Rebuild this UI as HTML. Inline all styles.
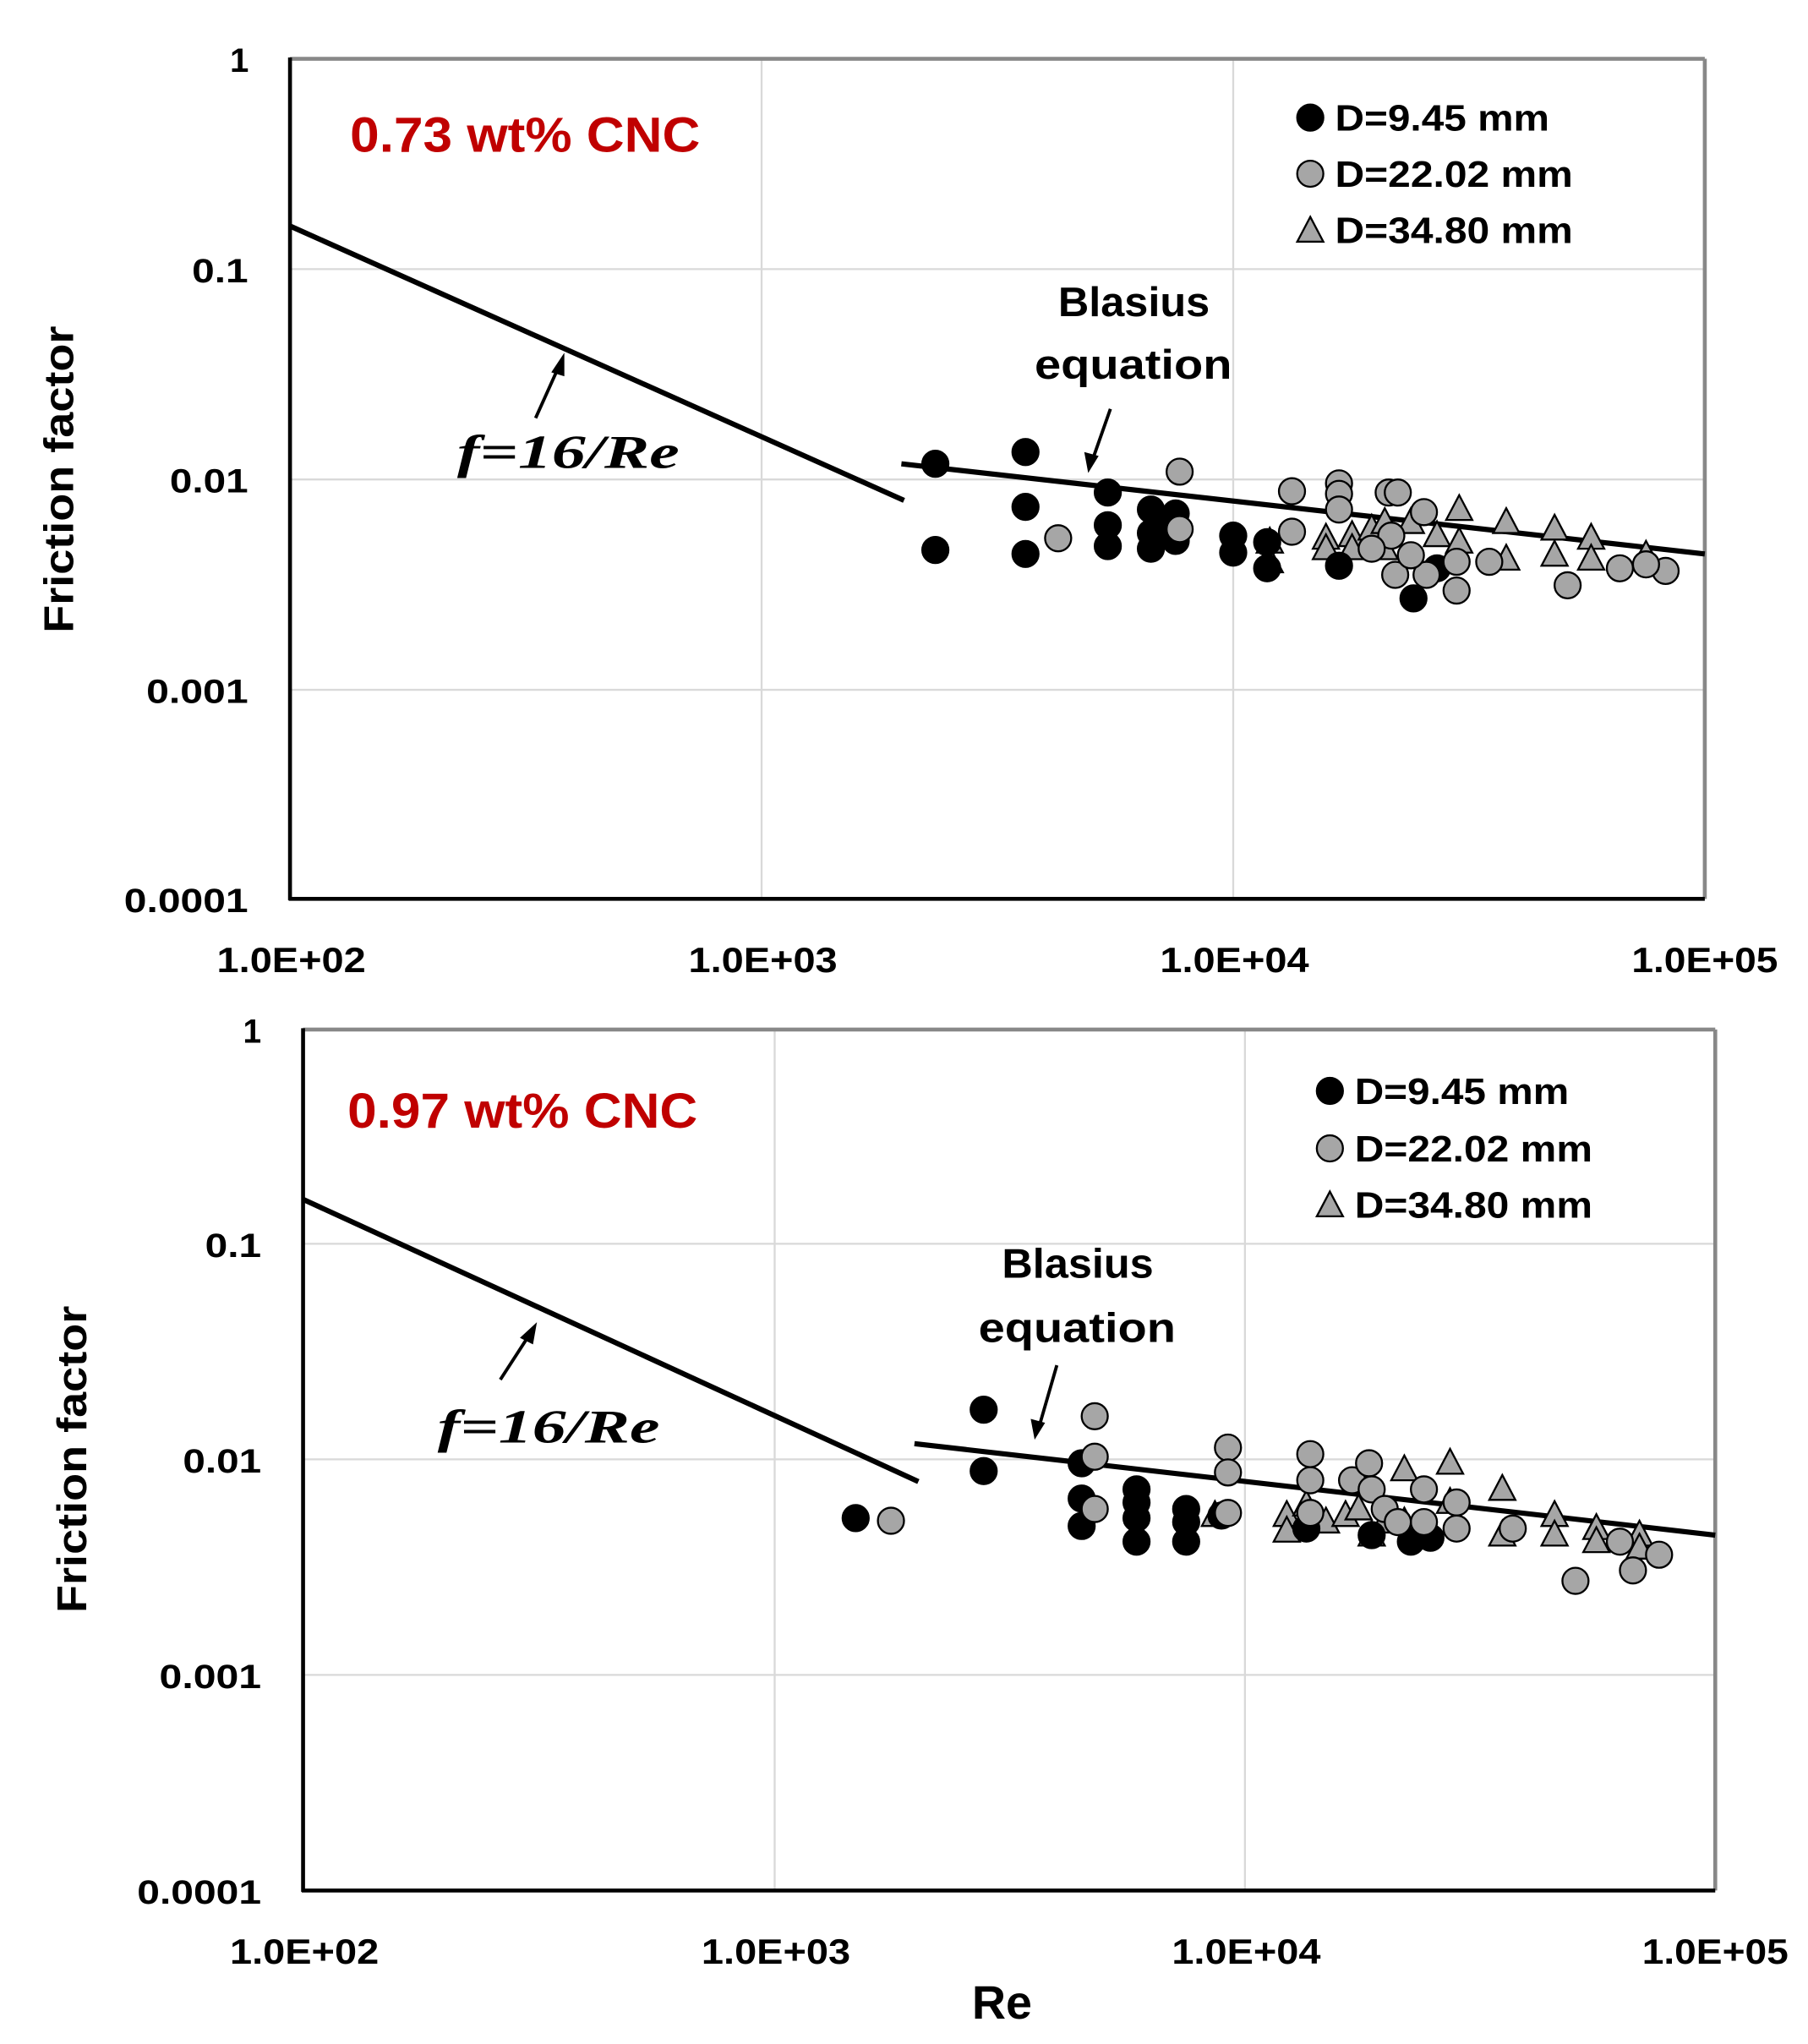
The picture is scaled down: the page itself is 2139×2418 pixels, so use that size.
<!DOCTYPE html>
<html><head><meta charset="utf-8"><style>html,body{margin:0;padding:0;background:#fff}svg{display:block}</style></head>
<body>
<svg width="2139" height="2418" viewBox="0 0 1384 1564.5" preserveAspectRatio="none" xmlns="http://www.w3.org/2000/svg" font-family="Liberation Sans, sans-serif" font-weight="bold">
<defs>
<symbol id="b" overflow="visible"><circle r="10" fill="#000" stroke="#000" stroke-width="1.5"/></symbol>
<symbol id="g" overflow="visible"><circle r="10" fill="#a6a6a6" stroke="#000" stroke-width="1.5"/></symbol>
<symbol id="t" overflow="visible"><polygon points="0,-11 10,8 -10,8" fill="#a6a6a6" stroke="#000" stroke-width="1.5"/></symbol>
</defs>
<!-- TOP PLOT -->
<g stroke="#d9d9d9" stroke-width="1.5">
<line x1="583" y1="45" x2="583" y2="688"/><line x1="944" y1="45" x2="944" y2="688"/>
<line x1="222" y1="206" x2="1305" y2="206"/><line x1="222" y1="367" x2="1305" y2="367"/><line x1="222" y1="528" x2="1305" y2="528"/>
</g>
<line x1="222" y1="45" x2="1305" y2="45" stroke="#888" stroke-width="3"/>
<line x1="1305" y1="45" x2="1305" y2="688" stroke="#888" stroke-width="3"/>
<line x1="222" y1="44" x2="222" y2="689" stroke="#000" stroke-width="3"/>
<line x1="221" y1="688" x2="1305" y2="688" stroke="#000" stroke-width="3"/>
<g font-size="26" lengthAdjust="spacingAndGlyphs">
<text x="176" y="55" textLength="14">1</text>
<text x="147" y="216" textLength="43" lengthAdjust="spacingAndGlyphs">0.1</text>
<text x="130" y="377" textLength="60" lengthAdjust="spacingAndGlyphs">0.01</text>
<text x="112" y="538" textLength="78" lengthAdjust="spacingAndGlyphs">0.001</text>
<text x="95" y="698" textLength="95" lengthAdjust="spacingAndGlyphs">0.0001</text>
</g>
<g font-size="27">
<text x="166" y="744" textLength="114" lengthAdjust="spacingAndGlyphs">1.0E+02</text>
<text x="527" y="744" textLength="114" lengthAdjust="spacingAndGlyphs">1.0E+03</text>
<text x="888" y="744" textLength="114" lengthAdjust="spacingAndGlyphs">1.0E+04</text>
<text x="1249" y="744" textLength="112" lengthAdjust="spacingAndGlyphs">1.0E+05</text>
</g>
<text transform="translate(56,367) rotate(-90)" font-size="32" text-anchor="middle" textLength="235" lengthAdjust="spacingAndGlyphs">Friction factor</text>
<text x="268" y="116" font-size="38" fill="#c00000" textLength="268" lengthAdjust="spacingAndGlyphs">0.73 wt% CNC</text>
<line x1="222" y1="173" x2="692" y2="383" stroke="#000" stroke-width="4"/>
<line x1="690" y1="355" x2="1305" y2="424" stroke="#000" stroke-width="4"/>
<line x1="410" y1="320" x2="428" y2="280" stroke="#000" stroke-width="2.5"/><polygon points="432,270 422,285 432,288" fill="#000"/>
<text x="350" y="358" font-size="36" font-family="Liberation Serif, serif" font-style="italic" textLength="170" lengthAdjust="spacingAndGlyphs">f=16/Re</text>
<text x="810" y="242" font-size="32" textLength="116" lengthAdjust="spacingAndGlyphs">Blasius</text>
<text x="792" y="290" font-size="32" textLength="151" lengthAdjust="spacingAndGlyphs">equation</text>
<line x1="850" y1="313" x2="837" y2="350" stroke="#000" stroke-width="2.5"/><polygon points="833,362 830,346 841,349" fill="#000"/>
<use href="#b" x="1003" y="90"/><text x="1022" y="100" font-size="28" textLength="164" lengthAdjust="spacingAndGlyphs">D=9.45 mm</text>
<use href="#g" x="1003" y="133"/><text x="1022" y="143" font-size="28" textLength="182" lengthAdjust="spacingAndGlyphs">D=22.02 mm</text>
<use href="#t" x="1003" y="177"/><text x="1022" y="186" font-size="28" textLength="182" lengthAdjust="spacingAndGlyphs">D=34.80 mm</text>
<g>
<use href="#t" x="1015" y="412"/><use href="#t" x="1015" y="420"/><use href="#t" x="1035" y="410"/><use href="#t" x="1050" y="405"/><use href="#t" x="1060" y="400"/><use href="#t" x="1080" y="400"/><use href="#t" x="1100" y="410"/><use href="#t" x="1117" y="390"/><use href="#t" x="1117" y="415"/><use href="#t" x="1153" y="400"/><use href="#t" x="1153" y="428"/><use href="#t" x="1190" y="405"/><use href="#t" x="1190" y="425"/><use href="#t" x="1218" y="412"/><use href="#t" x="1218" y="428"/><use href="#t" x="1260" y="425"/><use href="#t" x="972" y="415"/><use href="#t" x="972" y="430"/><use href="#t" x="1035" y="420"/><use href="#t" x="1060" y="420"/>
<use href="#b" x="716" y="355"/><use href="#b" x="716" y="421"/><use href="#b" x="785" y="346"/><use href="#b" x="785" y="388"/><use href="#b" x="785" y="424"/><use href="#b" x="848" y="377"/><use href="#b" x="848" y="402"/><use href="#b" x="848" y="418"/><use href="#b" x="881" y="390"/><use href="#b" x="881" y="408"/><use href="#b" x="881" y="420"/><use href="#b" x="890" y="400"/><use href="#b" x="900" y="393"/><use href="#b" x="900" y="414"/><use href="#b" x="944" y="410"/><use href="#b" x="944" y="423"/><use href="#b" x="970" y="415"/><use href="#b" x="970" y="435"/><use href="#b" x="1025" y="433"/><use href="#b" x="1082" y="458"/><use href="#b" x="1100" y="435"/>
<use href="#g" x="810" y="412"/><use href="#g" x="903" y="361"/><use href="#g" x="903" y="405"/><use href="#g" x="989" y="376"/><use href="#g" x="989" y="407"/><use href="#g" x="1025" y="370"/><use href="#g" x="1025" y="378"/><use href="#g" x="1025" y="390"/><use href="#g" x="1063" y="377"/><use href="#g" x="1070" y="377"/><use href="#g" x="1065" y="410"/><use href="#g" x="1068" y="440"/><use href="#g" x="1090" y="392"/><use href="#g" x="1092" y="440"/><use href="#g" x="1115" y="452"/><use href="#g" x="1115" y="430"/><use href="#g" x="1140" y="430"/><use href="#g" x="1200" y="448"/><use href="#g" x="1240" y="435"/><use href="#g" x="1275" y="437"/><use href="#g" x="1260" y="432"/><use href="#g" x="1050" y="420"/><use href="#g" x="1080" y="425"/>
</g>
<!-- BOTTOM PLOT -->
<g stroke="#d9d9d9" stroke-width="1.5">
<line x1="593" y1="788" x2="593" y2="1447"/><line x1="953" y1="788" x2="953" y2="1447"/>
<line x1="232" y1="952" x2="1313" y2="952"/><line x1="232" y1="1117" x2="1313" y2="1117"/><line x1="232" y1="1282" x2="1313" y2="1282"/>
</g>
<line x1="232" y1="788" x2="1313" y2="788" stroke="#888" stroke-width="3"/>
<line x1="1313" y1="788" x2="1313" y2="1447" stroke="#888" stroke-width="3"/>
<line x1="232" y1="787" x2="232" y2="1448" stroke="#000" stroke-width="3"/>
<line x1="231" y1="1447" x2="1313" y2="1447" stroke="#000" stroke-width="3"/>
<g font-size="26">
<text x="186" y="798" textLength="14" lengthAdjust="spacingAndGlyphs">1</text>
<text x="157" y="962" textLength="43" lengthAdjust="spacingAndGlyphs">0.1</text>
<text x="140" y="1127" textLength="60" lengthAdjust="spacingAndGlyphs">0.01</text>
<text x="122" y="1292" textLength="78" lengthAdjust="spacingAndGlyphs">0.001</text>
<text x="105" y="1457" textLength="95" lengthAdjust="spacingAndGlyphs">0.0001</text>
</g>
<g font-size="27">
<text x="176" y="1503" textLength="114" lengthAdjust="spacingAndGlyphs">1.0E+02</text>
<text x="537" y="1503" textLength="114" lengthAdjust="spacingAndGlyphs">1.0E+03</text>
<text x="897" y="1503" textLength="114" lengthAdjust="spacingAndGlyphs">1.0E+04</text>
<text x="1257" y="1503" textLength="112" lengthAdjust="spacingAndGlyphs">1.0E+05</text>
</g>
<text x="744" y="1545" font-size="36" textLength="46" lengthAdjust="spacingAndGlyphs">Re</text>
<text transform="translate(66,1117) rotate(-90)" font-size="32" text-anchor="middle" textLength="235" lengthAdjust="spacingAndGlyphs">Friction factor</text>
<text x="266" y="863" font-size="38" fill="#c00000" textLength="268" lengthAdjust="spacingAndGlyphs">0.97 wt% CNC</text>
<line x1="232" y1="918" x2="703" y2="1134" stroke="#000" stroke-width="4"/>
<line x1="700" y1="1105" x2="1313" y2="1175" stroke="#000" stroke-width="4"/>
<line x1="383" y1="1056" x2="405" y2="1022" stroke="#000" stroke-width="2.5"/><polygon points="411,1012 398,1024 408,1029" fill="#000"/>
<text x="335" y="1104" font-size="36" font-family="Liberation Serif, serif" font-style="italic" textLength="170" lengthAdjust="spacingAndGlyphs">f=16/Re</text>
<text x="767" y="978" font-size="32" textLength="116" lengthAdjust="spacingAndGlyphs">Blasius</text>
<text x="749" y="1027" font-size="32" textLength="151" lengthAdjust="spacingAndGlyphs">equation</text>
<line x1="809" y1="1045" x2="796" y2="1090" stroke="#000" stroke-width="2.5"/><polygon points="792,1102 789,1086 800,1089" fill="#000"/>
<use href="#b" x="1018" y="835"/><text x="1037" y="845" font-size="28" textLength="164" lengthAdjust="spacingAndGlyphs">D=9.45 mm</text>
<use href="#g" x="1018" y="879"/><text x="1037" y="889" font-size="28" textLength="182" lengthAdjust="spacingAndGlyphs">D=22.02 mm</text>
<use href="#t" x="1018" y="923"/><text x="1037" y="932" font-size="28" textLength="182" lengthAdjust="spacingAndGlyphs">D=34.80 mm</text>
<g>
<use href="#t" x="930" y="1160"/><use href="#t" x="985" y="1160"/><use href="#t" x="985" y="1172"/><use href="#t" x="1000" y="1152"/><use href="#t" x="1015" y="1165"/><use href="#t" x="1030" y="1160"/><use href="#t" x="1040" y="1155"/><use href="#t" x="1060" y="1165"/><use href="#t" x="1075" y="1125"/><use href="#t" x="1075" y="1165"/><use href="#t" x="1110" y="1120"/><use href="#t" x="1110" y="1150"/><use href="#t" x="1150" y="1140"/><use href="#t" x="1150" y="1175"/><use href="#t" x="1190" y="1160"/><use href="#t" x="1190" y="1175"/><use href="#t" x="1222" y="1170"/><use href="#t" x="1222" y="1180"/><use href="#t" x="1255" y="1175"/><use href="#t" x="1255" y="1185"/><use href="#t" x="1050" y="1175"/>
<use href="#b" x="655" y="1162"/><use href="#b" x="753" y="1079"/><use href="#b" x="753" y="1126"/><use href="#b" x="828" y="1120"/><use href="#b" x="828" y="1147"/><use href="#b" x="828" y="1168"/><use href="#b" x="870" y="1140"/><use href="#b" x="870" y="1150"/><use href="#b" x="870" y="1162"/><use href="#b" x="870" y="1180"/><use href="#b" x="908" y="1155"/><use href="#b" x="908" y="1165"/><use href="#b" x="908" y="1180"/><use href="#b" x="935" y="1160"/><use href="#b" x="1000" y="1170"/><use href="#b" x="1050" y="1175"/><use href="#b" x="1080" y="1180"/><use href="#b" x="1095" y="1177"/>
<use href="#g" x="682" y="1164"/><use href="#g" x="838" y="1084"/><use href="#g" x="838" y="1115"/><use href="#g" x="838" y="1155"/><use href="#g" x="940" y="1108"/><use href="#g" x="940" y="1127"/><use href="#g" x="940" y="1158"/><use href="#g" x="1003" y="1113"/><use href="#g" x="1003" y="1133"/><use href="#g" x="1003" y="1158"/><use href="#g" x="1035" y="1133"/><use href="#g" x="1048" y="1120"/><use href="#g" x="1050" y="1140"/><use href="#g" x="1090" y="1140"/><use href="#g" x="1090" y="1165"/><use href="#g" x="1115" y="1150"/><use href="#g" x="1115" y="1170"/><use href="#g" x="1158" y="1170"/><use href="#g" x="1206" y="1210"/><use href="#g" x="1250" y="1202"/><use href="#g" x="1270" y="1190"/><use href="#g" x="1240" y="1180"/><use href="#g" x="1060" y="1155"/><use href="#g" x="1070" y="1165"/>
</g>
</svg>
</body></html>
